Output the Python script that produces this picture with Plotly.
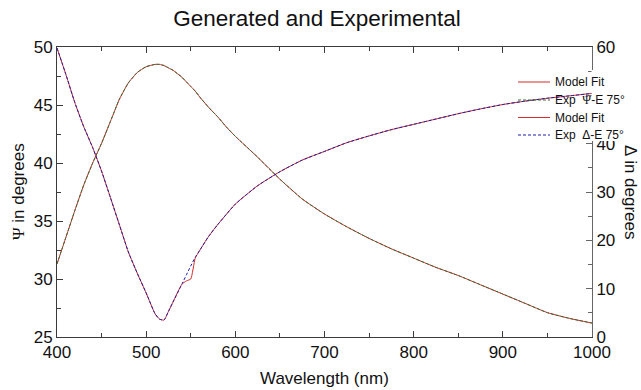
import plotly.graph_objects as go

# Wavelength grid (nm)
wavelength = [400, 410, 420, 430, 440, 450, 460, 470, 480, 490, 500, 510, 515, 520, 525,
              530, 540, 545, 550, 555, 560, 570, 580, 590, 600, 625, 650, 675, 700, 725,
              750, 775, 800, 825, 850, 875, 900, 925, 950, 975, 1000]

# Psi (degrees) - model and measured
psi_model = [31.3, 33.6, 35.9, 38.1, 40.0, 41.7, 43.6, 45.5, 46.9, 47.8, 48.3, 48.5, 48.5, 48.4, 48.2,
             48.0, 47.4, 47.0, 46.6, 46.2, 45.7, 44.8, 44.0, 43.1, 42.3, 40.5, 38.6, 36.9, 35.6, 34.5,
             33.5, 32.6, 31.8, 31.0, 30.3, 29.5, 28.7, 27.9, 27.1, 26.6, 26.2]
psi_exp = [31.3, 33.6, 35.9, 38.1, 40.0, 41.7, 43.6, 45.5, 46.9, 47.8, 48.3, 48.5, 48.5, 48.4, 48.2,
           48.0, 47.4, 47.0, 46.6, 46.2, 45.7, 44.8, 44.0, 43.1, 42.3, 40.5, 38.6, 36.9, 35.6, 34.5,
           33.5, 32.6, 31.8, 31.0, 30.3, 29.5, 28.7, 27.9, 27.1, 26.6, 26.2]

# Delta (degrees) - model and measured
delta_model = [59.8, 54.3, 48.5, 43.5, 39.2, 34.3, 28.8, 23.2, 17.6, 13.2, 9.1, 4.8, 3.7, 3.5, 5.3,
               7.2, 10.9, 11.6, 12.0, 16.3, 17.9, 20.8, 23.2, 25.4, 27.5, 31.3, 34.2, 36.6, 38.4, 40.2,
               41.6, 42.9, 44.0, 45.1, 46.2, 47.2, 48.1, 48.8, 49.4, 49.9, 50.4]
delta_exp = [59.8, 54.3, 48.5, 43.5, 39.2, 34.3, 28.8, 23.2, 17.6, 13.2, 9.1, 4.8, 3.7, 3.5, 5.3,
             7.2, 10.9, 12.8, 14.7, 16.5, 17.9, 20.8, 23.2, 25.4, 27.5, 31.3, 34.2, 36.6, 38.4, 40.2,
             41.6, 42.9, 44.0, 45.1, 46.2, 47.2, 48.1, 48.8, 49.4, 49.9, 50.4]

x_ticks = [400, 500, 600, 700, 800, 900, 1000]
psi_ticks = [25, 30, 35, 40, 45, 50]
delta_ticks = [0, 10, 20, 30, 40, 50, 60]

SERIF = "'Liberation Serif','Times New Roman',serif"
PSI = f"<span style=\"font-family:{SERIF}\">\u03a8</span>"
DELTA = "\u0394"
NB = "\u00a0"

RED = "#d42a2a"
GREEN = "#2f6e2f"
BLUE = "#1c1ca8"
AXIS = "#3a3a3a"
FONT = "Liberation Sans, Arial, sans-serif"
DASH = "3px,2px"

# Plot area in pixels
L, R, T, B = 57, 592, 47, 337
W_PLOT, H_PLOT = R - L, B - T


def px_x(px):
    return (px - L) / W_PLOT


def px_y(py):
    return (B - py) / H_PLOT


series = [
    ("Model Fit", wavelength, psi_model, "y", RED, "solid"),
    (f"Exp{NB}{NB}{PSI}-E 75°", wavelength, psi_exp, "y", GREEN, DASH),
    ("Model Fit", wavelength, delta_model, "y2", RED, "solid"),
    (f"Exp{NB}{NB}{DELTA}-E 75°", wavelength, delta_exp, "y2", BLUE, DASH),
]

fig = go.Figure()
for name, xs, ys, axis, color, dash in series:
    fig.add_trace(go.Scatter(x=xs, y=ys, mode="lines", name=name, yaxis=axis, showlegend=False,
                             line=dict(color=color, width=1, dash=dash,
                                       shape="spline", smoothing=0.5)))

tickfont = dict(family=FONT, size=17, color="#111")

# Key drawn as line samples and labels, right of the plot top
key_rows = [82, 100, 117.5, 135]
shapes = [
    # white panel behind the key, over the right axis
    dict(type="rect", xref="paper", yref="paper", layer="above",
         x0=px_x(591.5), x1=px_x(641), y0=px_y(141), y1=px_y(70),
         fillcolor="white", line=dict(width=0)),
    dict(type="rect", xref="paper", yref="paper", layer="above",
         x0=px_x(585), x1=px_x(641), y0=px_y(141), y1=px_y(106),
         fillcolor="white", line=dict(width=0)),
]
annotations = []
for (name, _, _, _, color, dash), row in zip(series, key_rows):
    shapes.append(dict(type="line", xref="paper", yref="paper", layer="above",
                       x0=px_x(518), x1=px_x(550), y0=px_y(row), y1=px_y(row),
                       line=dict(color=color, width=1, dash=dash)))
    annotations.append(dict(text=name, x=px_x(553), y=px_y(row), xref="paper", yref="paper",
                            xanchor="left", yanchor="middle", showarrow=False,
                            font=dict(family=FONT, size=12, color="#111")))

annotations += [
    dict(text="Wavelength (nm)", x=0.5, y=px_y(378), xref="paper", yref="paper",
         xanchor="center", yanchor="middle", showarrow=False,
         font=dict(family=FONT, size=17, color="#111")),
    dict(text=f"{PSI} in degrees", x=px_x(18), y=0.5, xref="paper", yref="paper",
         xanchor="center", yanchor="middle", showarrow=False, textangle=-90,
         font=dict(family=FONT, size=17, color="#111")),
    dict(text=f"{DELTA} in degrees", x=px_x(631), y=0.5, xref="paper", yref="paper",
         xanchor="center", yanchor="middle", showarrow=False, textangle=90,
         font=dict(family=FONT, size=17, color="#111")),
]

fig.update_layout(
    width=641, height=390,
    margin=dict(l=L, r=641 - R, t=T, b=390 - B, pad=0),
    paper_bgcolor="white", plot_bgcolor="white",
    font=dict(family=FONT, color="#111"),
    showlegend=False,
    title=dict(text="Generated and Experimental", x=px_x(317), xref="paper", xanchor="center",
               y=1 - 18 / 390, yref="container", yanchor="middle",
               font=dict(family=FONT, size=22.5, color="#111")),
    xaxis=dict(range=[400, 1000], tickvals=x_ticks, ticks="inside", ticklen=6, tickwidth=1,
               tickcolor=AXIS, showline=True, linecolor=AXIS, linewidth=1, mirror="ticks",
               showgrid=False, zeroline=False, tickfont=tickfont,
               minor=dict(dtick=50, ticks="inside", ticklen=4, tickcolor=AXIS, showgrid=False)),
    yaxis=dict(range=[25, 50], tickvals=psi_ticks, ticks="inside", ticklen=6, tickwidth=1,
               tickcolor=AXIS, showline=True, linecolor=AXIS, linewidth=1,
               showgrid=False, zeroline=False, tickfont=tickfont,
               minor=dict(dtick=2.5, ticks="inside", ticklen=4, tickcolor=AXIS, showgrid=False)),
    yaxis2=dict(range=[0, 60], tickvals=delta_ticks, ticks="inside", ticklen=6, tickwidth=1,
                tickcolor="#666", showline=True, linecolor="#666", linewidth=1,
                overlaying="y", side="right", anchor="x",
                showgrid=False, zeroline=False, tickfont=tickfont,
                minor=dict(dtick=5, ticks="inside", ticklen=4, tickcolor="#666", showgrid=False)),
    shapes=shapes,
    annotations=annotations,
)

fig.write_html("out.html")
